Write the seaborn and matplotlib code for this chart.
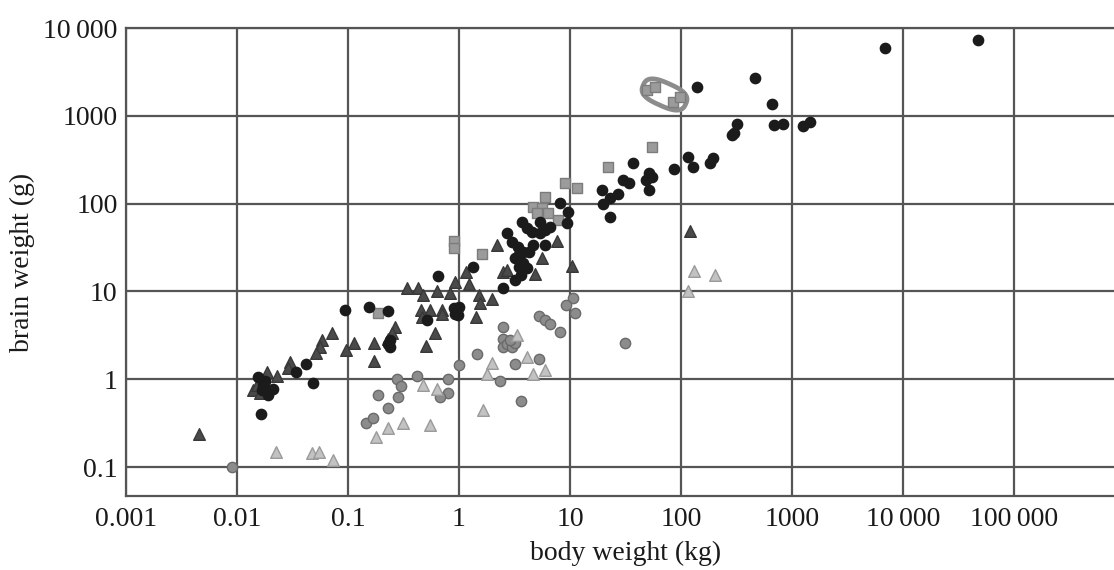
import numpy as np
import pandas as pd
import matplotlib
matplotlib.use("Agg")
import matplotlib.pyplot as plt
from matplotlib.path import Path
import seaborn as sns

# ---------------- data (body weight kg, brain weight g) ----------------
mammal_x = [0.0155, 0.0168, 0.019, 0.017, 0.021, 0.018, 0.0164, 0.034, 0.042, 0.048,
            0.094, 0.155, 0.23, 0.24, 0.24, 0.23, 0.52, 0.65, 0.96, 0.92, 1.0, 0.9, 0.97,
            1.34, 2.5, 2.7, 3.0, 3.4, 3.8, 3.2, 3.8, 4.1, 3.6, 3.2, 4.6, 6.0, 3.7, 4.1,
            4.5, 5.4, 6.0, 6.6, 5.4, 8.1, 9.6, 9.4, 3.4, 4.3, 3.5,
            19.4, 20, 23, 27, 23, 30, 34, 37, 52, 55, 48, 52, 86, 116, 128, 194, 182,
            290, 300, 320, 690, 830, 1260, 1450, 660, 465, 139, 6900, 47400]
mammal_y = [1.06, 0.75, 0.66, 0.85, 0.78, 0.95, 0.40, 1.2, 1.49, 0.9,
            6.1, 6.6, 6.0, 2.8, 2.3, 2.5, 4.7, 15, 6.1, 5.6, 6.6, 6.4, 5.4,
            19, 11, 46, 37, 32, 28, 24, 21, 18.5, 15.4, 13.5, 34, 34, 61, 53,
            47, 46, 50, 54, 61, 102, 80, 60, 25, 28, 19,
            143, 100, 115, 130, 70, 186, 172, 290, 223, 201, 186, 143, 248, 340, 261, 330, 290,
            600, 630, 800, 785, 800, 770, 850, 1360, 2700, 2130, 5900, 7300]

bird_x = [0.0045, 0.0187, 0.023, 0.014, 0.015, 0.016, 0.030, 0.029, 0.058, 0.056, 0.052,
          0.072, 0.096, 0.113, 0.17, 0.17, 0.265, 0.25, 0.23, 0.34, 0.43, 0.63, 0.47, 0.83,
          1.5, 2.0, 1.55, 0.45, 0.55, 0.7, 0.46, 0.7, 1.42, 0.61, 0.5, 1.15, 0.92, 1.23,
          2.5, 2.2, 7.7, 5.6, 10.4, 4.8, 2.7, 120]
bird_y = [0.24, 1.2, 1.1, 0.75, 0.85, 0.7, 1.57, 1.33, 2.8, 2.3, 2.0,
          3.4, 2.15, 2.6, 2.6, 1.6, 3.9, 3.4, 2.9, 11, 11, 10, 9.1, 9.5,
          9.1, 8.2, 7.4, 6.1, 6.1, 6.1, 5.1, 5.6, 5.1, 3.4, 2.4, 16.6, 12.8, 12,
          16.6, 34, 38, 24, 19.5, 15.8, 17.5, 49]

primate_x = [0.186, 0.90, 0.90, 1.6, 9.0, 11.6, 6.0, 4.6, 5.6, 6.3, 5.0, 7.8, 22, 55,
             49, 58, 85, 98]
primate_y = [5.7, 38, 31, 27, 172, 151, 119, 91, 89, 78, 78, 65, 261, 440,
             1970, 2130, 1440, 1640]

human_group_x = [70]
human_group_y = [1760]

fish_x = [0.009, 0.186, 0.145, 0.168, 0.276, 0.30, 0.42, 0.8, 0.8, 0.68, 0.28, 0.23,
          1.44, 2.5, 2.5, 2.5, 1.0, 2.35, 10.7, 9.2, 11, 5.3, 6.0, 6.6, 8.1, 2.7,
          3.0, 3.2, 2.9, 3.2, 5.3, 3.6, 31]
fish_y = [0.1, 0.66, 0.32, 0.36, 1.0, 0.83, 1.1, 1.0, 0.70, 0.63, 0.62, 0.47,
          1.94, 3.9, 2.9, 2.3, 1.45, 0.95, 8.5, 7.0, 5.7, 5.3, 4.7, 4.2, 3.45, 2.5,
          2.3, 2.6, 2.8, 1.5, 1.7, 0.56, 2.6]

reptile_x = [0.0224, 0.047, 0.055, 0.073, 0.18, 0.47, 0.63, 2.0, 1.8, 1.65, 0.31,
             0.23, 0.55, 3.3, 4.1, 6.0, 4.6, 131, 202, 116]
reptile_y = [0.148, 0.145, 0.148, 0.12, 0.22, 0.85, 0.78, 1.53, 1.15, 0.45, 0.32,
             0.28, 0.3, 3.2, 1.8, 1.26, 1.15, 17, 15.4, 10]

x_ticks = [0.001, 0.01, 0.1, 1, 10, 100, 1000, 10000, 100000]
x_tick_labels = ["0.001", "0.01", "0.1", "1", "10", "100", "1000",
                 "10\u2009000", "100\u2009000"]
y_ticks = [0.1, 1, 10, 100, 1000, 10000]
y_tick_labels = ["0.1", "1", "10", "100", "1000", "10\u2009000"]

# ---------------- style ----------------
sns.set_style("white")
plt.rcParams["font.family"] = ["Liberation Serif", "DejaVu Serif"]

fig = plt.figure(figsize=(11.14, 5.70), dpi=100)
ax = fig.add_axes([126 / 1114, 1 - 496 / 570, 999 / 1114, 468 / 570])
ax.set_xscale("log")
ax.set_yscale("log")

grid_c = "#555555"

# rounded outline marker around the hominin group
t = np.linspace(0, 2 * np.pi, 120)
p = 2.8
ex = np.sign(np.cos(t)) * np.abs(np.cos(t)) ** (2 / p)
ey = 0.5 * np.sign(np.sin(t)) * np.abs(np.sin(t)) ** (2 / p)
ang = np.deg2rad(-24)
verts = np.column_stack([ex * np.cos(ang) - ey * np.sin(ang),
                         ex * np.sin(ang) + ey * np.cos(ang)])
ell_marker = Path(verts, closed=True)

sns.scatterplot(x=human_group_x, y=human_group_y, marker=ell_marker, s=1050,
                color="white", edgecolor="#8c8c8c", linewidth=3.4, ax=ax, zorder=3)

groups = [
    (fish_x, fish_y, "o", "#8c8c8c", "#6a6a6a", 55),
    (reptile_x, reptile_y, "^", "#c2c2c2", "#9a9a9a", 70),
    (primate_x, primate_y, "s", "#9b9b9b", "#7c7c7c", 52),
    (bird_x, bird_y, "^", "#4a4a4a", "#383838", 70),
    (mammal_x, mammal_y, "o", "#1b1b1b", "#1b1b1b", 55),
]
for gx, gy, m, fc, ec, s in groups:
    sns.scatterplot(x=gx, y=gy, marker=m, color=fc, edgecolor=ec, linewidth=1.0,
                    s=s, ax=ax, zorder=4)

ax.set_xlim(1e-3, 1e6)
ax.set_ylim(10 ** -1.33, 1e4)

ax.set_xticks(x_ticks)
ax.set_xticklabels(x_tick_labels)
ax.set_yticks(y_ticks)
ax.set_yticklabels(y_tick_labels)
ax.xaxis.set_minor_locator(matplotlib.ticker.NullLocator())
ax.yaxis.set_minor_locator(matplotlib.ticker.NullLocator())
ax.tick_params(axis="both", length=0, labelsize=20, colors="#1a1a1a")
ax.tick_params(axis="x", pad=8)
ax.tick_params(axis="y", pad=6)

ax.grid(True, which="major", color=grid_c, linewidth=1.6)
ax.set_axisbelow(True)
for sp in ax.spines.values():
    sp.set_color(grid_c)
    sp.set_linewidth(1.6)

ax.set_xlabel("body weight (kg)", fontsize=20, color="#1a1a1a", labelpad=6)
ax.set_ylabel("brain weight (g)", fontsize=20, color="#1a1a1a", labelpad=6)

fig.savefig("out.png", dpi=100)
